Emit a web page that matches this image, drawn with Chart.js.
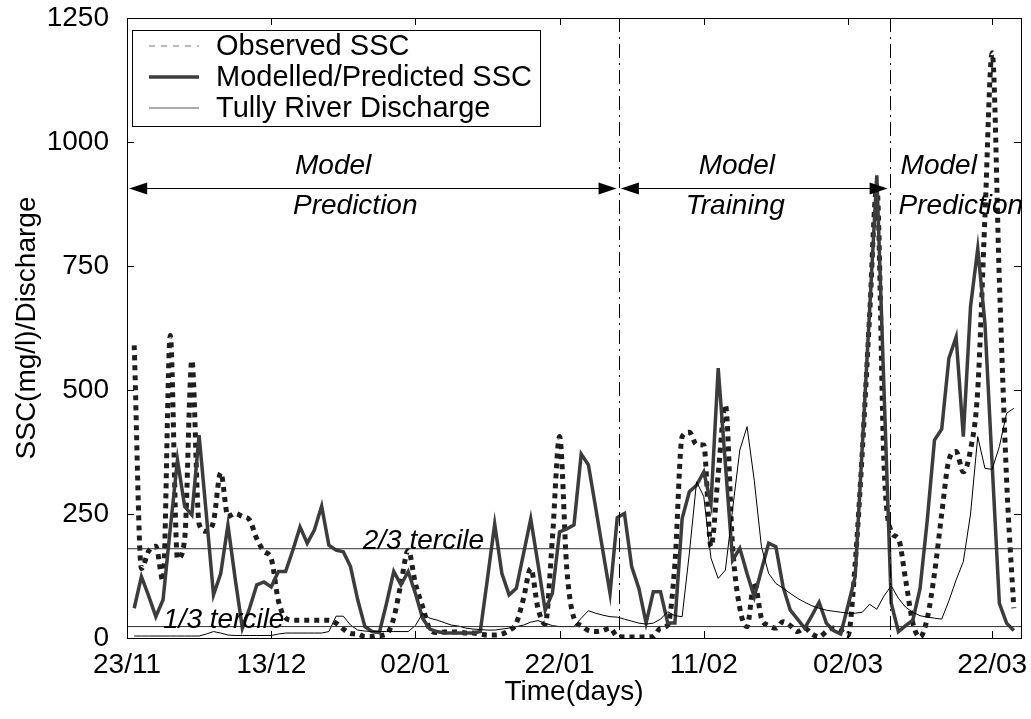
<!DOCTYPE html>
<html>
<head>
<meta charset="utf-8">
<script src="https://cdn.jsdelivr.net/npm/chart.js@4.4.1/dist/chart.umd.min.js"></script>
<style>
  html, body { margin: 0; padding: 0; background: #fff; }
  #wrap { width: 1031px; height: 719px; }
</style>
</head>
<body>
<div id="wrap"><canvas id="sscChart" width="1031" height="719"></canvas></div>
<script>
// x ticks (days since 23/11) and their date labels
const tickDays = [0, 20, 40, 60, 80, 100, 120];
const tickLabels = ['23/11', '13/12', '02/01', '22/01', '11/02', '02/03', '22/03'];
const yTicks = [0, 250, 500, 750, 1000, 1250];

// daily series, day 1 .. 123
const observedSSC = [
  590, 140, 175, 185, 115, 610, 160, 200, 560, 230,
  215, 235, 333, 245, 251, 245, 238, 200, 175, 160,
  75, 40, 36, 36, 36, 36, 36, 36, 30, 18,
  9, 8, 3, 3, 5, 8, 40, 110, 177, 110,
  63, 18, 11, 12, 12, 12, 10, 10, 8, 6,
  6, 8, 15, 30, 80, 140, 60, 28, 200, 406,
  140, 40, 25, 15, 13, 15, 20, 3, 2, 2,
  2, 2, 3, 20, 26, 150, 406, 415, 390, 389,
  184, 330, 470, 184, 60, 23, 113, 40, 25, 20,
  33, 25, 13, 20, 8, 2, 13, 20, 15, 5,
  150, 379, 650, 910, 350, 215, 200, 117, 30, 2,
  40, 130, 250, 359, 376, 335, 380, 500, 850, 1180,
  720, 320, 60
];
const modelledSSC = [
  60, 124, 85, 43, 77, 220, 359, 265, 248, 409,
  250, 87, 130, 228, 120, 20, 60, 107, 113, 103,
  134, 134, 177, 224, 191, 218, 266, 187, 177, 174,
  144, 77, 23, 13, 11, 70, 134, 107, 134, 90,
  40, 18, 13, 10, 10, 10, 10, 10, 13, 120,
  230, 130, 87, 100, 170, 240, 150, 56, 90, 214,
  220, 228, 371, 349, 263, 176, 90, 243, 251, 144,
  100, 30, 93, 93, 30, 30, 241, 295, 308, 335,
  271, 544, 350, 157, 181, 130, 83, 137, 191, 184,
  103, 56, 38, 20, 45, 72, 30, 15, 8, 65,
  124, 390, 660, 933, 500, 70, 13, 25, 36, 100,
  238, 399, 421, 564, 607, 406, 668, 785, 634, 350,
  70, 30, 15
];
const discharge = [
  4, 4, 4, 4, 4, 4, 4, 4, 4, 4,
  8, 13, 10, 6, 5, 5, 5, 5, 5, 5,
  8, 10, 10, 10, 10, 10, 10, 13, 44, 44,
  26, 16, 14, 13, 13, 13, 13, 13, 13, 25,
  50, 40, 36, 31, 26, 24, 20, 18, 17, 16,
  16, 18, 20, 23, 26, 32, 35, 30, 25, 23,
  23, 23, 40, 55, 50, 46, 43, 42, 38, 34,
  30, 28, 30, 38, 53, 45, 43, 171, 315, 285,
  161, 120, 137, 260, 379, 426, 318, 184, 130, 110,
  100, 90, 80, 72, 65, 60, 56, 54, 52, 50,
  50, 52, 68, 58, 85, 105, 80, 62, 52, 45,
  42, 40, 38, 75, 117, 154, 250, 406, 342, 340,
  386, 453, 463
];

const terciles = [23, 180];           // 1/3 and 2/3 tercile
const boundaries = [68.2, 105.8];     // prediction / training split days
const xMax = 124;
const arrowLevel = 907;

const toPoints = arr => arr.map((v, i) => ({ x: i + 1, y: v }));
const hLine = v => [{ x: 0, y: v }, { x: xMax, y: v }];

const FONT = "'Liberation Sans', Arial, sans-serif";

const overlay = {
  id: 'overlay',
  afterDraw(chart) {
    const { ctx, chartArea: a, scales: { x, y } } = chart;
    ctx.save();

    // dash-dot boundaries
    ctx.strokeStyle = '#000';
    ctx.lineWidth = 1;
    ctx.setLineDash([14, 5, 2, 5]);
    boundaries.forEach(d => {
      const px = Math.round(x.getPixelForValue(d)) + 0.5;
      ctx.beginPath(); ctx.moveTo(px, a.top); ctx.lineTo(px, a.bottom); ctx.stroke();
    });
    ctx.setLineDash([]);

    // frame + inward ticks
    ctx.strokeRect(Math.round(a.left) + 0.5, Math.round(a.top) + 0.5,
      Math.round(a.right - a.left), Math.round(a.bottom - a.top));
    ctx.beginPath();
    tickDays.forEach(d => {
      const px = Math.round(x.getPixelForValue(d)) + 0.5;
      ctx.moveTo(px, a.bottom); ctx.lineTo(px, a.bottom - 7);
      ctx.moveTo(px, a.top); ctx.lineTo(px, a.top + 7);
    });
    yTicks.forEach(v => {
      const py = Math.round(y.getPixelForValue(v)) + 0.5;
      ctx.moveTo(a.left, py); ctx.lineTo(a.left + 7, py);
      ctx.moveTo(a.right, py); ctx.lineTo(a.right - 7, py);
    });
    ctx.stroke();

    // arrows
    const ay = Math.round(y.getPixelForValue(arrowLevel)) + 0.5;
    const arrow = (d0, d1) => {
      const x0 = x.getPixelForValue(d0), x1 = x.getPixelForValue(d1);
      ctx.beginPath(); ctx.moveTo(x0 + 10, ay); ctx.lineTo(x1 - 10, ay); ctx.stroke();
      ctx.beginPath(); ctx.moveTo(x0, ay); ctx.lineTo(x0 + 18, ay - 6); ctx.lineTo(x0 + 18, ay + 6); ctx.closePath(); ctx.fill();
      ctx.beginPath(); ctx.moveTo(x1, ay); ctx.lineTo(x1 - 18, ay - 6); ctx.lineTo(x1 - 18, ay + 6); ctx.closePath(); ctx.fill();
    };
    ctx.fillStyle = '#000';
    arrow(0.3, boundaries[0] - 0.3);
    arrow(boundaries[0] + 0.3, boundaries[1] - 0.3);

    // region labels
    ctx.font = 'italic 28px ' + FONT;
    ctx.textBaseline = 'middle';
    ctx.textAlign = 'left';
    [[23.3, 'Model', 'Prediction', -2], [79.3, 'Model', 'Training', -13], [107.3, 'Model', 'Prediction', -2]]
      .forEach(([d, l1, l2, off]) => {
        const px = x.getPixelForValue(d);
        ctx.fillText(l1, px, ay - 22);
        ctx.fillText(l2, px + off, ay + 18);
      });

    // tercile labels
    ctx.textBaseline = 'alphabetic';
    ctx.fillText('2/3 tercile', x.getPixelForValue(32.7), y.getPixelForValue(terciles[1]));
    ctx.fillText('1/3 tercile', x.getPixelForValue(5), y.getPixelForValue(terciles[0]) + 1);

    // legend box
    const lx = a.left + 5, ly = a.top + 12, lw = 408, lh = 96;
    ctx.fillStyle = '#fff';
    ctx.fillRect(lx, ly, lw, lh);
    ctx.strokeStyle = '#000';
    ctx.lineWidth = 1;
    ctx.strokeRect(Math.round(lx) + 0.5, Math.round(ly) + 0.5, lw, lh);
    const rows = [
      ['Observed SSC', '#777', 1, [6, 6]],
      ['Modelled/Predicted SSC', '#3c3c3c', 3.5, []],
      ['Tully River Discharge', '#555', 1, []]
    ];
    ctx.font = '29px ' + FONT;
    ctx.textBaseline = 'middle';
    rows.forEach(([label, col, w, dash], i) => {
      const ry = ly + 16 + i * 31;
      ctx.strokeStyle = col; ctx.lineWidth = w; ctx.setLineDash(dash);
      ctx.beginPath(); ctx.moveTo(lx + 17, ry); ctx.lineTo(lx + 67, ry); ctx.stroke();
      ctx.setLineDash([]);
      ctx.fillStyle = '#000';
      ctx.fillText(label, lx + 84, ry + 1);
    });

    // axis titles
    ctx.font = '28px ' + FONT;
    ctx.fillStyle = '#000';
    ctx.textAlign = 'center';
    ctx.fillText('Time(days)', (a.left + a.right) / 2, 692);
    ctx.translate(27, (a.top + a.bottom) / 2);
    ctx.rotate(-Math.PI / 2);
    ctx.fillText('SSC(mg/l)/Discharge', 0, 0);
    ctx.restore();
  }
};

const ctx = document.getElementById('sscChart').getContext('2d');
new Chart(ctx, {
  type: 'line',
  data: {
    datasets: [
      { label: '1/3 tercile', data: hLine(terciles[0]), borderColor: '#333', borderWidth: 1, pointRadius: 0 },
      { label: '2/3 tercile', data: hLine(terciles[1]), borderColor: '#333', borderWidth: 1, pointRadius: 0 },
      { label: 'Tully River Discharge', data: toPoints(discharge), borderColor: '#000', borderWidth: 1, pointRadius: 0 },
      { label: 'Modelled/Predicted SSC', data: toPoints(modelledSSC), borderColor: '#3c3c3c', borderWidth: 3.5, pointRadius: 0, borderJoinStyle: 'miter' },
      { label: 'Observed SSC', data: toPoints(observedSSC), borderColor: '#1e1e1e', borderWidth: 5, borderDash: [5, 5], pointRadius: 0, cubicInterpolationMode: 'monotone' }
    ]
  },
  options: {
    responsive: false,
    animation: false,
    devicePixelRatio: 1,
    layout: { padding: { top: 18, right: 10, left: 0, bottom: 0 } },
    plugins: { legend: { display: false }, tooltip: { enabled: false } },
    scales: {
      x: {
        type: 'linear',
        min: 0,
        max: xMax,
        grid: { display: false },
        border: { display: false },
        afterBuildTicks: scale => { scale.ticks = tickDays.map(v => ({ value: v })); },
        afterFit: scale => { scale.height = 81; scale.paddingLeft = 0; scale.paddingRight = 0; },
        ticks: {
          padding: 2,
          color: '#000',
          font: { family: FONT, size: 28 },
          maxRotation: 0,
          callback: v => tickLabels[tickDays.indexOf(v)]
        }
      },
      y: {
        min: 0,
        max: 1250,
        grid: { display: false },
        border: { display: false },
        afterBuildTicks: scale => { scale.ticks = yTicks.map(v => ({ value: v })); },
        afterFit: scale => { scale.width = 127; scale.paddingTop = 0; scale.paddingBottom = 0; },
        ticks: {
          padding: 10,
          color: '#000',
          font: { family: FONT, size: 28 },
          callback: v => String(v)
        }
      }
    }
  },
  plugins: [overlay]
});
</script>
</body>
</html>
